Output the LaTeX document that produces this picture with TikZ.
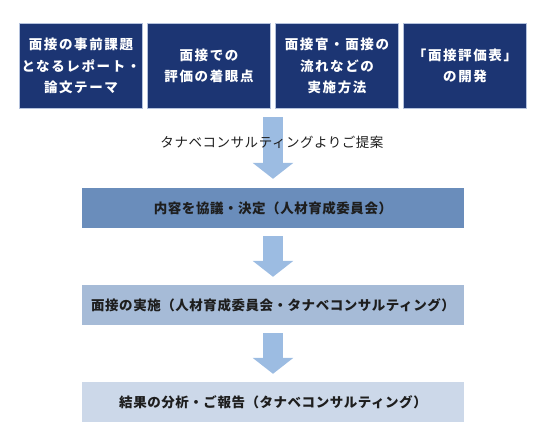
\documentclass[tikz,border=0pt]{standalone}
\usepackage{fontspec}
\usepackage{tikz}
\usetikzlibrary{positioning,arrows.meta,calc}
\newfontfamily\jp[LetterSpace=4]{Noto Sans CJK JP}
\newfontfamily\jpwide[LetterSpace=12]{Noto Sans CJK JP}
\definecolor{navy}     {HTML}{1C3573}
\definecolor{rim}      {HTML}{B4C2DD}
\definecolor{ink}      {HTML}{1E1E1E}
\definecolor{stepone}  {HTML}{6A8DBB}
\definecolor{steptwo}  {HTML}{A6BBD7}
\definecolor{stepthree}{HTML}{CCD8E9}
\definecolor{flow}     {HTML}{9CBCE2}
\tikzset{
  every node/.style={font=\jp\fontsize{13.5}{21}\selectfont},
  % --- nodes
  topbox/.style  = {fill=navy, draw=rim, line width=1pt, text=white, align=center,
                    minimum width=123pt, minimum height=85pt, inner sep=0pt,
                    font=\jpwide\bfseries\fontsize{13.5}{21.5}\selectfont},
  stepbox/.style = {text=ink, align=center, minimum width=382pt, minimum height=40pt,
                    inner sep=0pt, font=\jp\bfseries\fontsize{13.5}{16}\selectfont},
  note/.style    = {text=ink, font=\jp\fontsize{13.5}{16}\selectfont, inner sep=0pt},
  % --- edges
  blockarr/.style= {draw=flow, line width=20pt,
                    -{Triangle[width=40pt,length=16pt]}},
}
\begin{document}
\begin{tikzpicture}[x=1pt,y=-1pt]
  \useasboundingbox (0,0) rectangle (546,447);

  % proposal row
  \node[topbox] (theme)  at (81,66)  {面接の事前課題\\となるレポート・\\論文テーマ};
  \node[topbox] (focus)  at (209,66) {面接での\\評価の着眼点};
  \node[topbox] (method) at (337,66) {面接官・面接の\\流れなどの\\実施方法};
  \node[topbox] (sheet)  at (465,66) {「面接評価表」\\の開発};
  \coordinate (rowbot) at ($(focus.south east)!0.5!(method.south west)$);

  % flow
  \node[stepbox, fill=stepone]   (decide) at (273,208) {内容を協議・決定（人材育成委員会）};
  \node[stepbox, fill=steptwo]   (run)    at (273,305) {面接の実施（人材育成委員会・タナベコンサルティング）};
  \node[stepbox, fill=stepthree] (report) at (273,402) {結果の分析・ご報告（タナベコンサルティング）};

  % arrows
  \draw[blockarr, shorten <=8pt, shorten >=9pt] (rowbot) -- (decide.north);
  \draw[blockarr, shorten <=8pt, shorten >=8pt] (decide.south) -- (run.north);
  \draw[blockarr, shorten <=8pt, shorten >=8pt] (run.south) -- (report.north);
  \node[note] (offer) at (272,142) {タナベコンサルティングよりご提案};
\end{tikzpicture}
\end{document}
